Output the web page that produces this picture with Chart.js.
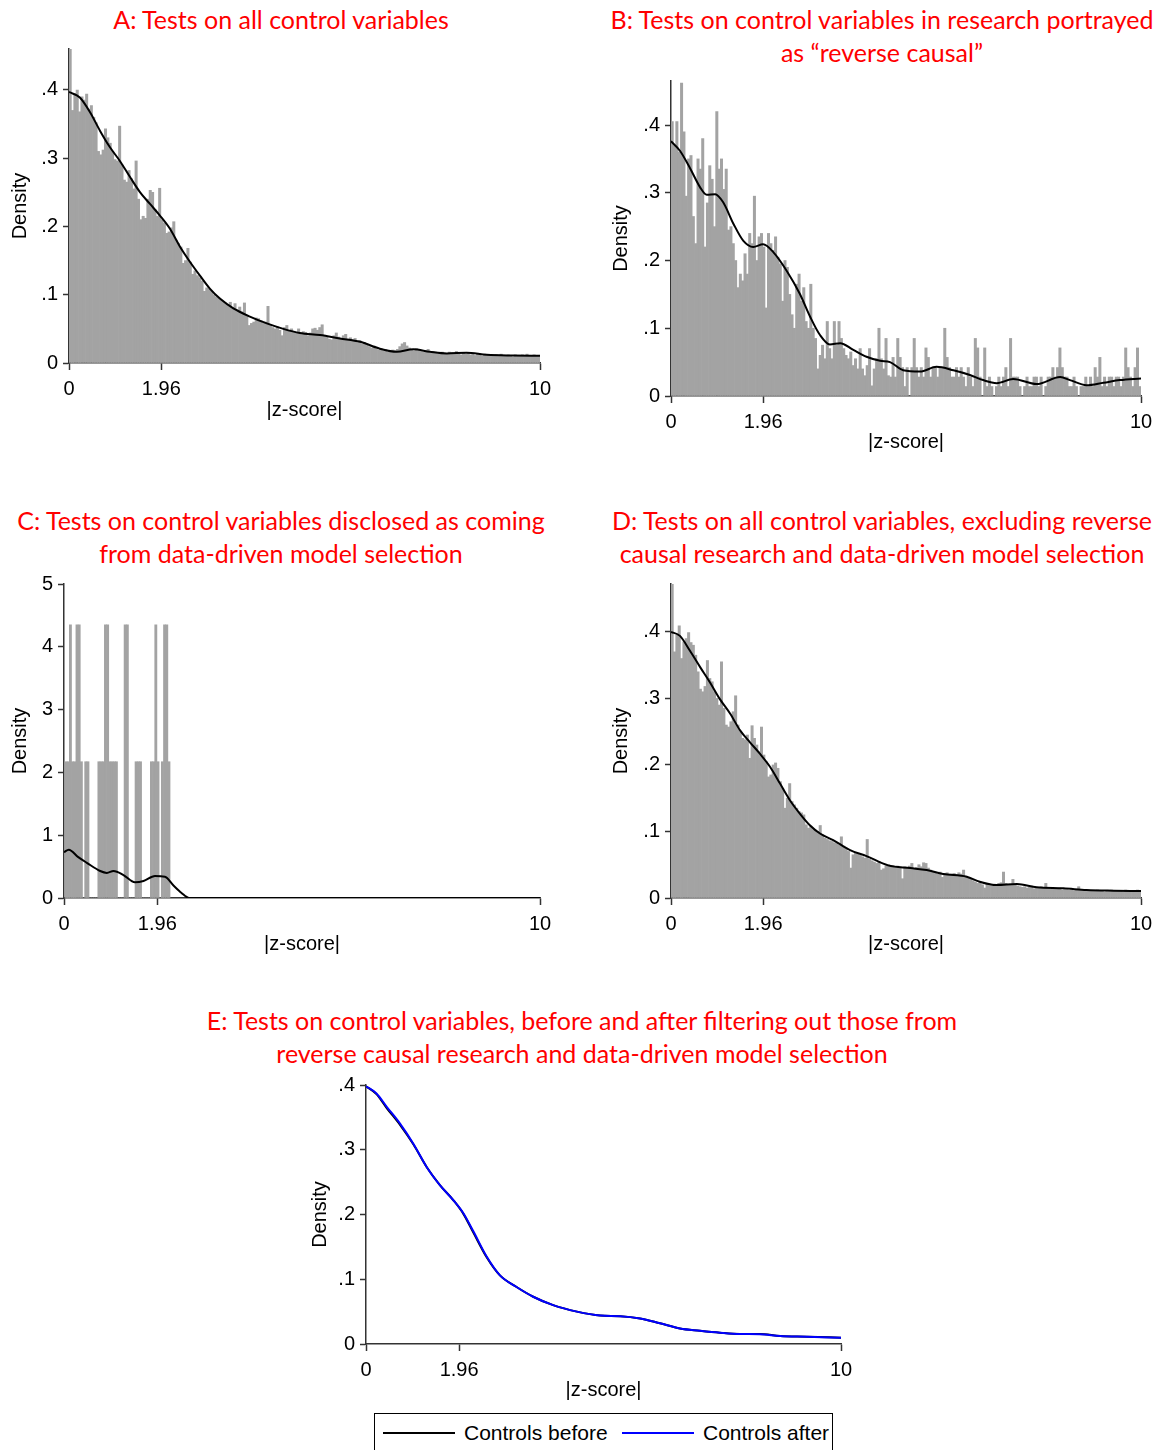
<!DOCTYPE html>
<html>
<head>
<meta charset="utf-8">
<script src="https://cdn.jsdelivr.net/npm/chart.js@4.4.1/dist/chart.umd.min.js"></script>
<style>
  body { margin: 0; background: #fff; width: 1160px; height: 1450px; position: relative; overflow: hidden;
         font-family: "Liberation Sans", Arial, sans-serif; }
  canvas { position: absolute; }
  .ttl { position: absolute; color: #f00; font-family: Lato, "Open Sans", sans-serif; font-size: 25px;
         line-height: 33px; text-align: center; white-space: nowrap; transform: translateX(-50%); }
  .lg { position: absolute; left: 374px; top: 1413px; width: 457px; height: 40px; border: 1px solid #000;
        font-size: 21px; color: #000; background: #fff; }
  .lg span { position: absolute; top: 7px; }
  .lg i { position: absolute; top: 18px; height: 0; border-top: 2px solid; width: 72px; }
</style>
</head>
<body>

<div class="ttl" style="left:281px;top:3px">A: Tests on all control variables</div>
<div class="ttl" style="left:882px;top:3px">B: Tests on control variables in research portrayed<br>as “reverse causal”</div>
<div class="ttl" style="left:281px;top:504px">C: Tests on control variables disclosed as coming<br>from data-driven model selection</div>
<div class="ttl" style="left:882px;top:504px">D: Tests on all control variables, excluding reverse<br>causal research and data-driven model selection</div>
<div class="ttl" style="left:582px;top:1004px">E: Tests on control variables, before and after filtering out those from<br>reverse causal research and data-driven model selection</div>

<canvas id="pA" width="580" height="391" style="left:0px;top:32px"></canvas>
<canvas id="pB" width="559" height="392" style="left:601px;top:64px"></canvas>
<canvas id="pC" width="580" height="391" style="left:0px;top:567px"></canvas>
<canvas id="pD" width="559" height="391" style="left:601px;top:567px"></canvas>
<canvas id="pE" width="565" height="336" style="left:296px;top:1068px"></canvas>

<div class="lg">
  <i style="left:8px;border-color:#000"></i><span style="left:89px">Controls before</span>
  <i style="left:247px;border-color:#00f"></i><span style="left:328px">Controls after</span>
</div>

<script>
// histogram bins: |z| from 0 to 10, width 0.05
const binStart = 0, binWidth = 0.05;

const aHist = [
  .46,.37,.395,.40,.368,.39,.385,.394,.372,.377,
  .36,.352,.31,.305,.312,.343,.33,.322,.31,.298,
  .296,.347,.29,.268,.265,.282,.27,.255,.296,.24,
  .21,.215,.212,.24,.253,.25,.225,.215,.256,.21,
  .205,.19,.192,.198,.207,.18,.175,.17,.146,.15,
  .168,.148,.13,.135,.128,.125,.12,.105,.11,.108,
  .105,.1,.097,.095,.092,.09,.088,.085,.089,.081,
  .087,.078,.082,.075,.088,.07,.055,.058,.06,.066,
  .065,.062,.058,.06,.083,.055,.052,.05,.053,.048,
  .04,.052,.055,.048,.05,.046,.044,.05,.042,.046,
  .045,.04,.044,.05,.051,.048,.052,.056,.04,.038,
  .035,.034,.04,.044,.038,.036,.04,.042,.035,.037,
  .034,.036,.03,.033,.028,.03,.026,.024,.022,.025,
  .02,.019,.021,.018,.02,.016,.017,.019,.018,.02,
  .024,.028,.03,.025,.022,.02,.018,.021,.019,.017,
  .016,.018,.02,.015,.017,.016,.014,.015,.016,.013,
  .014,.016,.015,.013,.017,.014,.012,.015,.013,.014,
  .012,.013,.011,.014,.012,.01,.013,.012,.011,.012,
  .011,.012,.01,.013,.011,.01,.012,.011,.009,.012,
  .011,.01,.012,.011,.013,.01,.011,.012,.01,.011
];
const aKdeZ = [0,0.23,0.45,0.66,0.87,1.08,1.3,1.51,1.72,1.93,2.14,2.36,2.57,2.78,2.99,3.21,3.49,3.84,4.2,4.55,4.9,5.33,5.75,6.18,6.6,6.96,7.31,7.66,8.02,8.44,8.87,9.43,10];
const aKdeY = [.397,.389,.367,.34,.316,.296,.272,.25,.233,.216,.197,.17,.148,.128,.109,.094,.08,.068,.058,.05,.044,.041,.036,.031,.021,.0165,.02,.0165,.014,.015,.012,.011,.0107];

const bHist = [
  .405,.37,.405,.36,.462,.39,.295,.35,.355,.265,
  .225,.35,.335,.38,.22,.285,.34,.32,.25,.42,
  .335,.35,.305,.335,.245,.25,.225,.2,.16,.18,
  .17,.21,.18,.24,.225,.295,.2,.235,.24,.22,
  .13,.24,.225,.215,.235,.205,.195,.14,.2,.19,
  .15,.12,.1,.165,.18,.14,.16,.11,.1,.165,
  .1,.085,.04,.06,.075,.055,.11,.07,.055,.11,
  .075,.11,.085,.07,.06,.055,.065,.045,.055,.04,
  .07,.04,.03,.045,.07,.015,.04,.055,.1,.055,
  .04,.085,.03,.028,.057,.028,.085,.057,.042,.014,
  .042,0,.042,.085,.042,.028,.042,.028,.071,.057,
  .028,.042,.042,.028,.042,.042,.1,.057,.042,.028,
  .028,.042,.028,.042,.028,.014,.042,.028,.014,.085,
  .071,.028,0,.071,.014,.028,.014,0,.014,.028,
  .014,.028,.042,.014,.085,.028,.028,.028,.014,0,
  .014,.028,.014,.014,.028,.028,.014,.028,0,.014,
  .028,.028,.042,.028,.042,.071,.042,.028,.028,.014,
  .014,.028,.014,0,.014,.014,.028,.014,.028,.014,
  .042,.028,.057,.014,.028,.014,.028,.028,.014,.028,
  .028,.014,.028,.071,.042,.028,.014,.042,.071,.014
];
const bKdeZ = [0,0.19,0.4,0.62,0.76,0.94,1.11,1.33,1.54,1.75,1.96,2.18,2.46,2.74,2.96,3.17,3.38,3.6,3.88,4.16,4.45,4.66,4.94,5.3,5.65,6.01,6.36,6.64,6.93,7.28,7.78,8.28,8.49,8.84,9.2,9.55,10];
const bKdeY = [.376,.362,.337,.308,.297,.298,.286,.254,.229,.22,.224,.212,.185,.151,.117,.09,.076,.078,.068,.058,.052,.05,.038,.036,.043,.038,.031,.0235,.019,.025,.0176,.028,.0235,.016,.0196,.0235,.026];

// panel C uses its own narrower bins
const cBinStart = 0.02, cBinWidth = 0.046;
const cHist = [
  2.17,2.17,4.35,2.17,2.17,4.35,4.35,2.17,0,2.17,
  2.17,0,0,0,0,2.17,2.17,2.17,4.35,4.35,
  2.17,2.17,2.17,2.17,0,0,0,4.35,4.35,0,
  0,0,2.17,2.17,2.17,0,0,0,0,2.17,
  2.17,4.35,2.17,0,2.17,4.35,4.35,2.17
];
const cKdeZ = [0,0.1,0.3,0.48,0.76,0.9,1.04,1.25,1.49,1.67,1.91,2.12,2.3,2.47,2.63,10];
const cKdeY = [.73,.77,.65,.56,.43,.40,.43,.365,.25,.27,.35,.34,.2,.08,0,0];

const dHist = [
  .472,.37,.395,.409,.36,.385,.39,.399,.384,.38,
  .365,.34,.314,.31,.318,.357,.33,.325,.31,.30,
  .29,.355,.285,.26,.257,.265,.28,.304,.26,.25,
  .24,.238,.245,.21,.259,.24,.23,.22,.257,.215,
  .205,.182,.185,.2,.203,.195,.175,.165,.135,.15,
  .172,.145,.14,.135,.13,.128,.125,.11,.105,.108,
  .103,.102,.1,.109,.095,.09,.088,.086,.085,.083,
  .082,.08,.092,.078,.075,.07,.045,.065,.068,.066,
  .064,.062,.06,.088,.058,.056,.054,.052,.055,.042,
  .044,.048,.05,.047,.049,.046,.048,.045,.029,.047,
  .045,.048,.052,.044,.046,.05,.047,.053,.052,.045,
  .042,.04,.038,.036,.039,.031,.037,.038,.035,.036,
  .037,.035,.038,.036,.042,.033,.03,.028,.026,.024,
  .022,.025,.02,.015,.021,.019,.02,.021,.018,.022,
  .023,.039,.022,.02,.021,.028,.02,.018,.017,.016,
  .017,.015,.016,.018,.014,.016,.015,.017,.016,.022,
  .014,.013,.015,.014,.013,.015,.012,.013,.014,.012,
  .013,.011,.012,.017,.012,.011,.01,.012,.011,.01,
  .011,.012,.01,.011,.009,.011,.01,.012,.01,.011,
  .01,.011,.009,.012,.01,.011,.01,.011,.012,.01
];
const dKdeZ = [0,0.19,0.4,0.62,0.83,1.04,1.26,1.47,1.68,1.89,2.11,2.32,2.53,2.74,2.96,3.17,3.45,3.81,4.16,4.62,5.09,5.44,5.79,6.29,6.57,6.93,7.36,7.78,8.35,8.84,9.41,10];
const dKdeY = [.4,.394,.372,.347,.324,.299,.277,.252,.234,.217,.197,.172,.147,.127,.109,.097,.087,.072,.063,.049,.045,.042,.036,.032,.0245,.0195,.021,.016,.0145,.012,.011,.0105];

// panel E: densities before and after filtering
const eZ = [0,0.22,0.44,0.72,1.0,1.28,1.56,1.84,2.05,2.26,2.54,2.82,3.17,3.52,3.94,4.44,4.93,5.35,5.77,6.19,6.61,7.03,7.45,7.87,8.29,8.72,9.28,10];
const eBeforeY = [.398,.386,.364,.338,.308,.273,.245,.222,.201,.172,.134,.106,.088,.073,.06,.05,.044,.043,.0395,.032,.024,.0205,.0175,.0155,.0155,.0123,.0113,.0097];
const eAfterY  = [.398,.387,.366,.340,.309,.273,.245,.222,.202,.174,.135,.106,.088,.073,.06,.05,.044,.043,.0395,.032,.024,.0205,.0175,.0155,.0152,.0122,.0112,.0095];

const xTickValues = [0, 1.96, 10];
const xTickLabels = ['0', '1.96', '10'];
const yTickValues = [0, .1, .2, .3, .4];
const yTickLabels = ['0', '.1', '.2', '.3', '.4'];
const cTickValues = [0, 1, 2, 3, 4, 5];
const cTickLabels = ['0', '1', '2', '3', '4', '5'];

const axisColor = '#333';
const barColor = '#a3a3a3';

// lower order is painted on top
function lineSet(z, y, color, order) {
  return {
    type: 'line',
    data: z.map((v, i) => ({ x: v, y: y[i] })),
    borderColor: color, borderWidth: 2, pointRadius: 0,
    cubicInterpolationMode: 'monotone', fill: false, order: order
  };
}

function panel(id, o) {
  const datasets = [];
  if (o.hist) {
    datasets.push({
      type: 'bar',
      data: o.hist.map((v, i) => ({ x: o.start + o.width * (i + 0.5), y: v })),
      backgroundColor: barColor, borderWidth: 0,
      barPercentage: 1, categoryPercentage: 1, order: 5
    });
  }
  o.lines.forEach(l => datasets.push(lineSet(l[0], l[1], l[2], l[3])));

  new Chart(document.getElementById(id), {
    type: o.hist ? 'bar' : 'line',
    data: { datasets: datasets },
    options: {
      responsive: false,
      animation: false,
      layout: { padding: { left: 0, right: o.right, top: 8, bottom: 0 } },
      plugins: { legend: { display: false }, tooltip: { enabled: false } },
      scales: {
        x: {
          type: 'linear', min: 0, max: 10, offset: false,
          afterBuildTicks: s => { s.ticks = xTickValues.map(v => ({ value: v })); },
          afterFit: s => { s.height = 60; },
          ticks: { autoSkip: false, maxRotation: 0, padding: 7, color: '#000',
                   font: { size: 20 }, callback: (v, i) => xTickLabels[i] },
          grid: { display: true, drawOnChartArea: false, drawTicks: true, tickLength: 7,
                  tickColor: axisColor, tickWidth: 1.5, offset: false },
          border: { display: true, color: axisColor, width: 1.5 },
          title: { display: true, text: '|z-score|', color: '#000', font: { size: 20 },
                   padding: { top: 0, bottom: o.xTitlePad } }
        },
        y: {
          type: 'linear', min: 0, max: o.ymax,
          afterBuildTicks: s => { s.ticks = o.yTicks.map(v => ({ value: v })); },
          afterFit: s => { s.width = o.yw; },
          ticks: { autoSkip: false, padding: 5, color: '#000', font: { size: 20 },
                   callback: (v, i) => o.yLabels[i] },
          grid: { display: true, drawOnChartArea: false, drawTicks: true, tickLength: 6,
                  tickColor: axisColor, tickWidth: 1.5 },
          border: { display: true, color: axisColor, width: 1.5 },
          title: { display: true, text: 'Density', color: '#000', font: { size: 20 },
                   padding: { top: o.yTitlePad, bottom: 0 } }
        }
      }
    }
  });
}

Chart.defaults.font.family = '"Liberation Sans", Arial, sans-serif';

panel('pA', { hist: aHist, start: binStart, width: binWidth, lines: [[aKdeZ, aKdeY, '#000', 1]],
  ymax: Math.max(...aHist), yTicks: yTickValues, yLabels: yTickLabels, yw: 69, right: 40, yTitlePad: 8, xTitlePad: 1 });
panel('pB', { hist: bHist, start: binStart, width: binWidth, lines: [[bKdeZ, bKdeY, '#000', 1]],
  ymax: Math.max(...bHist) + .003, yTicks: yTickValues, yLabels: yTickLabels, yw: 70, right: 19, yTitlePad: 8, xTitlePad: 2 });
panel('pC', { hist: cHist, start: cBinStart, width: cBinWidth, lines: [[cKdeZ, cKdeY, '#000', 1]],
  ymax: 5, yTicks: cTickValues, yLabels: cTickLabels, yw: 64, right: 40, yTitlePad: 8, xTitlePad: 2 });
panel('pD', { hist: dHist, start: binStart, width: binWidth, lines: [[dKdeZ, dKdeY, '#000', 1]],
  ymax: Math.max(...dHist), yTicks: yTickValues, yLabels: yTickLabels, yw: 70, right: 19, yTitlePad: 8, xTitlePad: 2 });
panel('pE', { hist: null, lines: [[eZ, eBeforeY, '#000', 2], [eZ, eAfterY, '#00f', 1]],
  ymax: .4, yTicks: yTickValues, yLabels: yTickLabels, yw: 70, right: 20, yTitlePad: 12, xTitlePad: 2 });
</script>
</body>
</html>
